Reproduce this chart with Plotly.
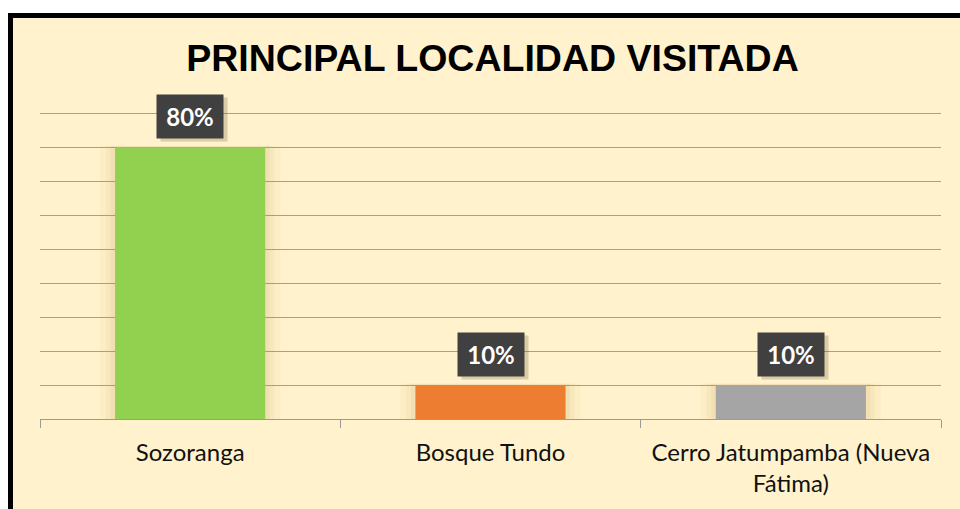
import plotly.graph_objects as go

categories = ["Sozoranga", "Bosque Tundo", "Cerro Jatumpamba (Nueva<br>Fátima)"]
values = [80, 10, 10]
labels = ["80%", "10%", "10%"]
colors = ["#92D050", "#ED7D31", "#A5A5A5"]
title_text = "PRINCIPAL LOCALIDAD VISITADA"

W, H = 960, 509
ml, mr, mt, mb = 40, 19, 110, 90

fig = go.Figure()

# soft glow around bars
for w, op in [(0.60, 0.05), (0.56, 0.07), (0.53, 0.08)]:
    fig.add_trace(go.Bar(x=categories, y=[v + 0.4 for v in values], width=w,
                         marker=dict(color=f"rgba(190,150,70,{op})", line=dict(width=0)),
                         hoverinfo="skip", showlegend=False))

fig.add_trace(go.Bar(x=categories, y=values, width=0.5,
                     marker=dict(color=colors, line=dict(width=0)),
                     showlegend=False))

fig.update_layout(barmode="overlay")

# data labels (shadow + box)
for c, v, t in zip(categories, values, labels):
    fig.add_annotation(x=c, y=v, yref="y", xref="x", text=" ", showarrow=False,
                       yanchor="bottom", yshift=5, xshift=4, width=64, height=41,
                       bgcolor="rgba(90,70,30,0.22)", font=dict(size=10))
    fig.add_annotation(x=c, y=v, yref="y", xref="x", text="<b>" + t + "</b>", showarrow=False,
                       yanchor="bottom", yshift=8, width=64, height=41,
                       bgcolor="#404040", font=dict(color="white", size=24, family="Lato"))

def px_to_paper_x(px):
    return (px - ml) / (W - ml - mr)

def px_to_paper_y(py):
    return (H - mb - py) / (H - mt - mb)

shapes = [
    dict(type="rect", xref="paper", yref="paper", x0=px_to_paper_x(0), x1=px_to_paper_x(W),
         y0=px_to_paper_y(13), y1=px_to_paper_y(0), fillcolor="white", line=dict(width=0)),
    dict(type="rect", xref="paper", yref="paper", x0=px_to_paper_x(0), x1=px_to_paper_x(8),
         y0=px_to_paper_y(H), y1=px_to_paper_y(0), fillcolor="white", line=dict(width=0)),
    dict(type="rect", xref="paper", yref="paper", x0=px_to_paper_x(8), x1=px_to_paper_x(W),
         y0=px_to_paper_y(18), y1=px_to_paper_y(13), fillcolor="black", line=dict(width=0)),
    dict(type="rect", xref="paper", yref="paper", x0=px_to_paper_x(8), x1=px_to_paper_x(13),
         y0=px_to_paper_y(H), y1=px_to_paper_y(13), fillcolor="black", line=dict(width=0)),
]

fig.update_layout(
    width=W, height=H,
    margin=dict(l=ml, r=mr, t=mt, b=mb),
    paper_bgcolor="#FFF2CC",
    plot_bgcolor="rgba(0,0,0,0)",
    shapes=shapes,
    title=dict(text="<b>" + title_text + "</b>", x=492.5 / W, xanchor="center",
               y=1 - 58 / H, yanchor="middle",
               font=dict(family="Liberation Sans, Arial", size=37.5, color="black")),
    xaxis=dict(showline=True, linecolor="#9A9A9A", linewidth=1,
               ticks="outside", tickson="boundaries", ticklen=8, tickcolor="#9A9A9A",
               tickfont=dict(family="Lato", size=24, color="#111111"),
               ticklabelstandoff=12, showgrid=False),
    yaxis=dict(range=[0, 91], dtick=10, showgrid=True, gridcolor="#A0A0A0", gridwidth=1,
               showticklabels=False, zeroline=False, showline=False, ticks=""),
)

fig.write_html("out.html", config={"displayModeBar": False},
               post_script="document.body.style.margin='0';document.body.style.padding='0';")
